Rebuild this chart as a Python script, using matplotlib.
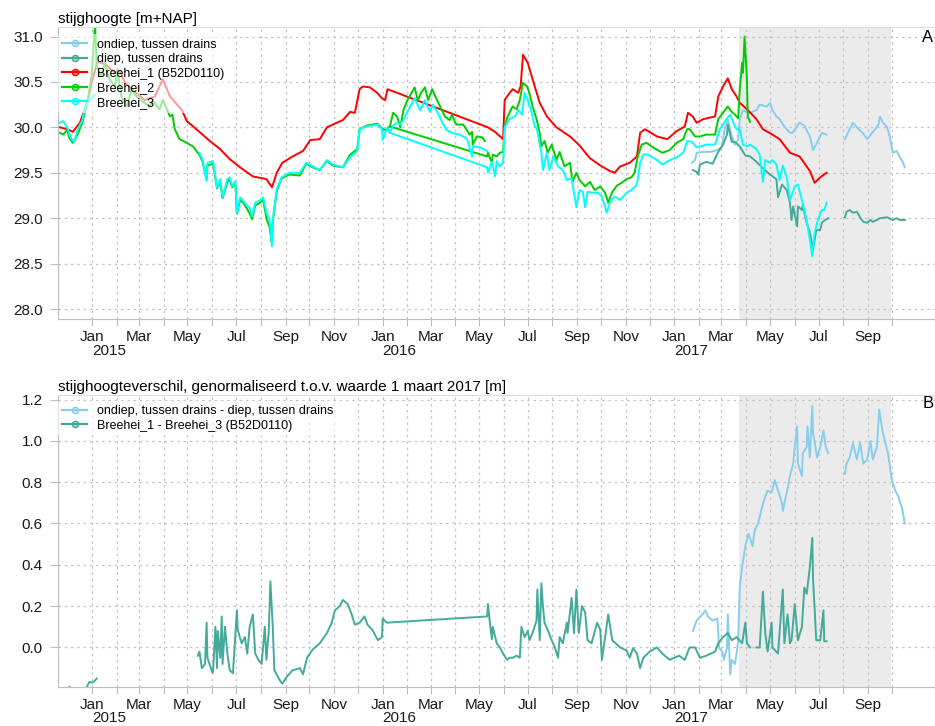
import matplotlib
matplotlib.use("Agg")
import matplotlib.pyplot as plt
import matplotlib.dates as mdates
from matplotlib.lines import Line2D
from matplotlib.colors import to_rgba
import numpy as np
import pandas as pd

plt.rcParams["font.family"] = ["Liberation Sans", "DejaVu Sans"]

# ---- data ----
# top panel: stijghoogte [m+NAP]
ondiep = [("2017-01-23", 29.61), ("2017-01-27", 29.64), ("2017-01-29", 29.72), ("2017-02-06", 29.73),
          ("2017-02-15", 29.73), ("2017-02-24", 29.75), ("2017-03-02", 29.79), ("2017-03-05", 29.98),
          ("2017-03-09", 30.09), ("2017-03-14", 29.90), ("2017-03-18", 29.81), ("2017-03-22", 29.86),
          ("2017-03-24", 30.09), ("2017-03-28", 30.19), ("2017-04-06", 30.16), ("2017-04-14", 30.19),
          ("2017-04-18", 30.25), ("2017-04-27", 30.23), ("2017-05-01", 30.27), ("2017-05-04", 30.19),
          ("2017-05-09", 30.12), ("2017-05-13", 30.09), ("2017-05-19", 30.01), ("2017-05-26", 29.94),
          ("2017-05-29", 29.94), ("2017-06-07", 30.05), ("2017-06-13", 30.02), ("2017-06-20", 29.90),
          ("2017-06-24", 29.75), ("2017-06-29", 29.83), ("2017-07-05", 29.94), ("2017-07-11", 29.92),
          ("2017-07-20", None),
          ("2017-08-03", 29.87), ("2017-08-09", 29.98), ("2017-08-13", 30.05), ("2017-08-18", 30.00),
          ("2017-08-25", 29.94), ("2017-08-31", 29.87), ("2017-09-06", 29.94), ("2017-09-10", 29.98),
          ("2017-09-14", 30.03), ("2017-09-16", 30.12), ("2017-09-19", 30.06), ("2017-09-25", 30.00),
          ("2017-09-29", 29.87), ("2017-10-02", 29.72), ("2017-10-07", 29.74), ("2017-10-11", 29.67),
          ("2017-10-15", 29.61), ("2017-10-17", 29.56)]

diep = [("2017-01-24", 29.53), ("2017-01-29", 29.51), ("2017-01-31", 29.48), ("2017-02-02", 29.59),
        ("2017-02-10", 29.62), ("2017-02-18", 29.60), ("2017-02-25", 29.73), ("2017-03-03", 29.81),
        ("2017-03-08", 29.92), ("2017-03-09", 30.03), ("2017-03-14", 29.84), ("2017-03-18", 29.84),
        ("2017-03-24", 29.79), ("2017-03-31", 29.69), ("2017-04-06", 29.68), ("2017-04-14", 29.62),
        ("2017-04-22", 29.55), ("2017-05-01", 29.48), ("2017-05-09", 29.43), ("2017-05-11", 29.23),
        ("2017-05-16", 29.37), ("2017-05-22", 29.31), ("2017-05-26", 29.17), ("2017-05-28", 28.98),
        ("2017-05-30", 29.13), ("2017-06-04", 28.91), ("2017-06-05", 29.13), ("2017-06-10", 29.09),
        ("2017-06-11", 29.14), ("2017-06-16", 28.95), ("2017-06-20", 28.84), ("2017-06-24", 28.65),
        ("2017-06-28", 28.87), ("2017-07-03", 28.87), ("2017-07-05", 28.95), ("2017-07-09", 28.98),
        ("2017-07-13", 29.00),
        ("2017-07-20", None),
        ("2017-08-03", 29.01), ("2017-08-05", 29.07), ("2017-08-09", 29.09), ("2017-08-13", 29.06),
        ("2017-08-18", 29.07), ("2017-08-22", 29.01), ("2017-08-26", 28.96), ("2017-08-31", 28.95),
        ("2017-09-04", 28.98), ("2017-09-07", 28.96), ("2017-09-12", 28.98), ("2017-09-16", 29.00),
        ("2017-09-25", 29.01), ("2017-10-02", 28.98), ("2017-10-07", 29.00), ("2017-10-11", 28.98),
        ("2017-10-17", 28.98)]

breehei_1 = [("2014-11-22", 30.00), ("2014-12-01", 29.98), ("2014-12-08", 29.95), ("2014-12-17", 30.05),
             ("2014-12-27", 30.30), ("2015-01-01", 30.50), ("2015-01-08", 30.72), ("2015-01-17", 30.70),
             ("2015-01-30", 30.60), ("2015-02-05", 30.62), ("2015-02-11", 30.50), ("2015-02-20", 30.42),
             ("2015-03-08", 30.30), ("2015-03-21", 30.34), ("2015-03-31", 30.53), ("2015-04-09", 30.34),
             ("2015-04-24", 30.19), ("2015-04-30", 30.07), ("2015-05-16", 29.95), ("2015-05-29", 29.85),
             ("2015-06-11", 29.76), ("2015-06-23", 29.65), ("2015-07-06", 29.56), ("2015-07-22", 29.46),
             ("2015-08-08", 29.43), ("2015-08-15", 29.34), ("2015-08-21", 29.50), ("2015-08-28", 29.61),
             ("2015-09-10", 29.68), ("2015-09-23", 29.74), ("2015-10-02", 29.86), ("2015-10-14", 29.87),
             ("2015-10-23", 30.00), ("2015-11-04", 30.05), ("2015-11-12", 30.08), ("2015-11-21", 30.17),
             ("2015-11-27", 30.16), ("2015-12-03", 30.42), ("2015-12-07", 30.45), ("2015-12-16", 30.44),
             ("2015-12-25", 30.38), ("2015-12-31", 30.32), ("2016-01-04", 30.30), ("2016-01-07", 30.42),
             ("2016-05-12", 30.00), ("2016-05-21", 29.95), ("2016-05-31", 29.87), ("2016-06-02", 30.30),
             ("2016-06-05", 30.34), ("2016-06-12", 30.42), ("2016-06-19", 30.38), ("2016-06-22", 30.45),
             ("2016-06-25", 30.80), ("2016-07-01", 30.71), ("2016-07-07", 30.53), ("2016-07-16", 30.27),
             ("2016-07-25", 30.12), ("2016-08-06", 30.00), ("2016-08-23", 29.90), ("2016-09-04", 29.80),
             ("2016-09-17", 29.66), ("2016-09-30", 29.58), ("2016-10-12", 29.52), ("2016-10-18", 29.50),
             ("2016-10-25", 29.57), ("2016-11-06", 29.61), ("2016-11-15", 29.68), ("2016-11-19", 29.94),
             ("2016-11-25", 29.98), ("2016-12-10", 29.90), ("2016-12-23", 29.87), ("2017-01-04", 29.96),
             ("2017-01-14", 30.01), ("2017-01-18", 30.16), ("2017-01-24", 30.12), ("2017-01-29", 30.05),
             ("2017-02-06", 30.09), ("2017-02-21", 30.12), ("2017-02-25", 30.34), ("2017-03-03", 30.45),
             ("2017-03-09", 30.54), ("2017-03-14", 30.42), ("2017-03-20", 30.34), ("2017-03-24", 30.27),
             ("2017-04-02", 30.20), ("2017-04-14", 30.09), ("2017-04-22", 29.98), ("2017-05-04", 29.92),
             ("2017-05-13", 29.87), ("2017-05-26", 29.72), ("2017-06-07", 29.68), ("2017-06-20", 29.52),
             ("2017-06-26", 29.39), ("2017-07-03", 29.45), ("2017-07-11", 29.50)]

breehei_2 = [("2014-11-22", 29.94), ("2014-11-26", 29.92), ("2014-12-01", 29.97), ("2014-12-04", 29.88),
             ("2014-12-08", 29.83), ("2014-12-14", 29.92), ("2014-12-20", 30.05), ("2014-12-27", 30.30),
             ("2015-01-01", 30.60), ("2015-01-05", 31.15), ("2015-01-07", 30.67), ("2015-01-13", 30.56),
             ("2015-01-17", 30.71), ("2015-01-23", 30.53), ("2015-01-30", 30.45), ("2015-02-02", 30.64),
             ("2015-02-07", 30.34), ("2015-02-14", 30.23), ("2015-02-20", 30.42), ("2015-02-26", 30.34),
             ("2015-03-06", 30.28), ("2015-03-15", 30.23), ("2015-03-18", 30.30), ("2015-03-27", 30.20),
             ("2015-03-31", 30.30), ("2015-04-09", 30.12), ("2015-04-12", 30.14), ("2015-04-15", 29.98),
             ("2015-04-21", 29.87), ("2015-04-30", 29.83), ("2015-05-08", 29.79), ("2015-05-13", 29.73),
             ("2015-05-16", 29.70), ("2015-05-20", 29.62), ("2015-05-25", 29.43), ("2015-05-26", 29.58),
             ("2015-06-02", 29.60), ("2015-06-07", 29.33), ("2015-06-11", 29.40), ("2015-06-14", 29.22),
             ("2015-06-20", 29.40), ("2015-06-23", 29.43), ("2015-06-26", 29.34), ("2015-06-30", 29.38),
             ("2015-07-02", 29.05), ("2015-07-06", 29.20), ("2015-07-10", 29.17), ("2015-07-15", 29.10),
             ("2015-07-18", 29.05), ("2015-07-21", 28.99), ("2015-07-25", 29.14), ("2015-07-31", 29.17),
             ("2015-08-04", 29.20), ("2015-08-08", 29.00), ("2015-08-12", 28.90), ("2015-08-15", 28.72),
             ("2015-08-16", 28.95), ("2015-08-21", 29.30), ("2015-08-27", 29.44), ("2015-09-06", 29.48),
             ("2015-09-19", 29.47), ("2015-09-27", 29.60), ("2015-10-05", 29.56), ("2015-10-14", 29.53),
             ("2015-10-23", 29.63), ("2015-10-30", 29.58), ("2015-11-12", 29.56), ("2015-11-21", 29.70),
             ("2015-11-30", 29.76), ("2015-12-03", 29.98), ("2015-12-12", 30.02), ("2015-12-25", 30.04),
             ("2015-12-31", 29.99), ("2016-01-04", 29.97), ("2016-01-10", 30.01),
             ("2016-05-11", 29.68), ("2016-05-12", 29.72), ("2016-05-17", 29.61), ("2016-05-18", 29.70),
             ("2016-05-23", 29.68), ("2016-05-27", 29.72), ("2016-05-31", 29.73), ("2016-06-02", 30.00),
             ("2016-06-05", 30.10), ("2016-06-08", 30.16), ("2016-06-12", 30.23), ("2016-06-17", 30.20),
             ("2016-06-21", 30.30), ("2016-06-25", 30.49), ("2016-06-30", 30.45), ("2016-07-03", 30.38),
             ("2016-07-07", 30.23), ("2016-07-12", 30.09), ("2016-07-16", 29.94), ("2016-07-18", 29.79),
             ("2016-07-22", 29.85), ("2016-07-26", 29.72), ("2016-07-31", 29.81), ("2016-08-06", 29.64),
             ("2016-08-10", 29.73), ("2016-08-16", 29.57), ("2016-08-23", 29.61), ("2016-08-26", 29.40),
             ("2016-08-31", 29.50), ("2016-09-04", 29.42), ("2016-09-11", 29.35), ("2016-09-17", 29.40),
             ("2016-09-23", 29.31), ("2016-09-30", 29.35), ("2016-10-06", 29.28), ("2016-10-10", 29.17),
             ("2016-10-15", 29.29), ("2016-10-21", 29.36), ("2016-10-27", 29.39), ("2016-11-02", 29.43),
             ("2016-11-08", 29.45), ("2016-11-12", 29.50), ("2016-11-16", 29.68), ("2016-11-21", 29.81),
             ("2016-11-27", 29.83), ("2016-12-05", 29.78), ("2016-12-17", 29.72), ("2016-12-26", 29.75),
             ("2017-01-04", 29.83), ("2017-01-12", 29.87), ("2017-01-17", 29.98), ("2017-01-20", 29.98),
             ("2017-01-27", 29.90), ("2017-02-02", 29.90), ("2017-02-10", 29.92), ("2017-02-21", 29.92),
             ("2017-02-25", 30.09), ("2017-03-03", 30.16), ("2017-03-09", 30.23), ("2017-03-14", 30.17),
             ("2017-03-18", 30.14), ("2017-03-22", 30.10), ("2017-03-24", 30.42), ("2017-03-27", 30.71),
             ("2017-03-28", 30.60), ("2017-03-30", 31.00), ("2017-04-02", 30.53), ("2017-04-03", 30.12),
             ("2017-04-06", 30.06)]

# second logger stretch jan-may 2016 (plotted as its own piece)
breehei_2_2016 = [("2016-01-10", 30.01), ("2016-01-14", 30.16), ("2016-01-19", 30.12), ("2016-01-23", 30.00),
                  ("2016-01-27", 30.19), ("2016-02-01", 30.30), ("2016-02-05", 30.36), ("2016-02-10", 30.44),
                  ("2016-02-14", 30.30), ("2016-02-18", 30.38), ("2016-02-23", 30.44), ("2016-02-27", 30.30),
                  ("2016-03-03", 30.42), ("2016-03-07", 30.34), ("2016-03-13", 30.23), ("2016-03-19", 30.12),
                  ("2016-03-25", 30.08), ("2016-03-28", 30.14), ("2016-04-01", 30.05), ("2016-04-03", 30.03),
                  ("2016-04-11", 30.03), ("2016-04-19", 29.92), ("2016-04-22", 29.95), ("2016-04-23", 29.81),
                  ("2016-04-28", 29.90), ("2016-05-05", 29.89), ("2016-05-08", 29.85)]

breehei_3 = [("2014-11-22", 30.05), ("2014-11-26", 30.07), ("2014-12-01", 30.00), ("2014-12-04", 29.92),
             ("2014-12-07", 29.86), ("2014-12-10", 29.84), ("2014-12-14", 29.97), ("2014-12-20", 30.08),
             ("2014-12-23", 30.22), ("2014-12-29", 30.30), ("2015-01-05", 30.36),
             ("2015-03-01", None),
             ("2015-05-16", 29.72), ("2015-05-20", 29.64), ("2015-05-25", 29.41), ("2015-05-26", 29.61),
             ("2015-06-02", 29.63), ("2015-06-07", 29.34), ("2015-06-11", 29.43), ("2015-06-14", 29.23),
             ("2015-06-20", 29.43), ("2015-06-23", 29.45), ("2015-06-26", 29.35), ("2015-06-30", 29.41),
             ("2015-07-02", 29.06), ("2015-07-06", 29.23), ("2015-07-10", 29.19), ("2015-07-15", 29.13),
             ("2015-07-18", 29.12), ("2015-07-21", 29.02), ("2015-07-25", 29.17), ("2015-07-31", 29.20),
             ("2015-08-04", 29.23), ("2015-08-08", 29.06), ("2015-08-12", 28.98), ("2015-08-15", 28.69),
             ("2015-08-16", 28.98), ("2015-08-21", 29.32), ("2015-08-27", 29.45), ("2015-09-06", 29.50),
             ("2015-09-19", 29.50), ("2015-09-27", 29.61), ("2015-10-05", 29.57), ("2015-10-14", 29.53),
             ("2015-10-23", 29.64), ("2015-10-30", 29.59), ("2015-11-12", 29.56), ("2015-11-21", 29.67),
             ("2015-11-30", 29.74), ("2015-12-03", 29.98), ("2015-12-12", 30.01), ("2015-12-25", 30.03),
             ("2015-12-31", 29.98), ("2016-01-01", 29.86), ("2016-01-04", 29.94), ("2016-01-07", 30.00),
             ("2016-01-10", 29.94),
             ("2016-05-11", 29.56), ("2016-05-12", 29.50), ("2016-05-17", 29.62), ("2016-05-21", 29.46),
             ("2016-05-23", 29.63), ("2016-05-27", 29.57), ("2016-05-31", 29.61), ("2016-06-02", 30.00),
             ("2016-06-08", 30.09), ("2016-06-15", 30.12), ("2016-06-19", 30.19), ("2016-06-24", 30.14),
             ("2016-06-27", 30.38), ("2016-07-01", 30.30), ("2016-07-06", 30.16), ("2016-07-10", 30.00),
             ("2016-07-12", 30.00), ("2016-07-18", 29.72), ("2016-07-20", 29.53), ("2016-07-25", 29.72),
             ("2016-07-28", 29.53), ("2016-08-02", 29.68), ("2016-08-08", 29.57), ("2016-08-14", 29.53),
             ("2016-08-19", 29.42), ("2016-08-25", 29.44), ("2016-08-31", 29.12), ("2016-09-04", 29.31),
             ("2016-09-08", 29.29), ("2016-09-11", 29.12), ("2016-09-14", 29.29), ("2016-09-21", 29.28),
             ("2016-09-27", 29.28), ("2016-10-02", 29.24), ("2016-10-08", 29.06), ("2016-10-12", 29.17),
             ("2016-10-18", 29.24), ("2016-10-25", 29.20), ("2016-11-02", 29.28), ("2016-11-08", 29.31),
             ("2016-11-15", 29.37), ("2016-11-19", 29.61), ("2016-11-23", 29.70), ("2016-11-29", 29.70),
             ("2016-12-10", 29.64), ("2016-12-17", 29.59), ("2016-12-26", 29.64), ("2017-01-04", 29.67),
             ("2017-01-12", 29.72), ("2017-01-17", 29.85), ("2017-01-23", 29.84), ("2017-01-29", 29.78),
             ("2017-02-10", 29.81), ("2017-02-21", 29.81), ("2017-02-27", 29.98), ("2017-03-08", 30.10),
             ("2017-03-12", 30.14), ("2017-03-16", 30.05), ("2017-03-20", 29.98), ("2017-03-24", 29.98),
             ("2017-03-28", 29.81), ("2017-04-02", 29.79), ("2017-04-06", 29.81), ("2017-04-14", 29.76),
             ("2017-04-18", 29.70), ("2017-04-22", 29.40), ("2017-04-25", 29.64), ("2017-05-01", 29.61),
             ("2017-05-04", 29.64), ("2017-05-09", 29.59), ("2017-05-13", 29.42), ("2017-05-17", 29.58),
             ("2017-05-22", 29.45), ("2017-05-26", 29.20), ("2017-06-01", 29.35), ("2017-06-05", 29.37),
             ("2017-06-10", 29.20), ("2017-06-16", 28.98), ("2017-06-20", 28.76), ("2017-06-23", 28.58),
             ("2017-06-26", 28.84), ("2017-06-30", 28.98), ("2017-07-05", 29.09), ("2017-07-08", 29.09),
             ("2017-07-11", 29.17)]

breehei_3_2016 = [("2016-01-10", 29.94), ("2016-01-14", 30.02), ("2016-01-19", 30.05), ("2016-01-23", 30.03),
                  ("2016-01-27", 30.08), ("2016-02-02", 30.19), ("2016-02-10", 30.32), ("2016-02-17", 30.19),
                  ("2016-02-23", 30.30), ("2016-02-29", 30.17), ("2016-03-04", 30.25), ("2016-03-10", 30.16),
                  ("2016-03-16", 30.05), ("2016-03-21", 29.97), ("2016-03-25", 29.95), ("2016-04-01", 29.93),
                  ("2016-04-07", 29.92), ("2016-04-16", 29.87), ("2016-04-22", 29.68), ("2016-04-23", 29.79),
                  ("2016-05-02", 29.78), ("2016-05-11", 29.74)]

# bottom panel: verschil, genormaliseerd t.o.v. 1 maart 2017
verschil_ondiep_diep = [("2017-01-24", 0.08), ("2017-01-29", 0.13), ("2017-02-05", 0.16), ("2017-02-09", 0.18),
                        ("2017-02-12", 0.15), ("2017-02-18", 0.13), ("2017-02-24", 0.14), ("2017-02-25", 0.07),
                        ("2017-02-26", 0.00), ("2017-03-02", -0.02), ("2017-03-04", -0.06), ("2017-03-08", 0.00),
                        ("2017-03-09", 0.16), ("2017-03-12", -0.13), ("2017-03-14", -0.06), ("2017-03-18", -0.08),
                        ("2017-03-20", -0.03), ("2017-03-22", 0.03), ("2017-03-24", 0.29), ("2017-03-27", 0.39),
                        ("2017-03-31", 0.49), ("2017-04-04", 0.55), ("2017-04-09", 0.49), ("2017-04-12", 0.57),
                        ("2017-04-16", 0.60), ("2017-04-21", 0.68), ("2017-04-25", 0.73), ("2017-04-28", 0.76),
                        ("2017-05-03", 0.75), ("2017-05-07", 0.81), ("2017-05-11", 0.76), ("2017-05-16", 0.70),
                        ("2017-05-17", 0.66), ("2017-05-22", 0.75), ("2017-05-26", 0.83), ("2017-05-30", 0.89),
                        ("2017-06-01", 0.97), ("2017-06-04", 1.07), ("2017-06-05", 0.89), ("2017-06-10", 0.83),
                        ("2017-06-11", 0.94), ("2017-06-16", 0.97), ("2017-06-17", 1.07), ("2017-06-20", 0.92),
                        ("2017-06-23", 1.17), ("2017-06-24", 1.04), ("2017-06-29", 0.92), ("2017-07-03", 0.97),
                        ("2017-07-07", 1.05), ("2017-07-10", 0.97), ("2017-07-13", 0.94),
                        ("2017-07-20", None),
                        ("2017-08-03", 0.84), ("2017-08-05", 0.89), ("2017-08-09", 0.92), ("2017-08-13", 0.99),
                        ("2017-08-18", 0.91), ("2017-08-22", 0.99), ("2017-08-26", 0.89), ("2017-08-31", 0.91),
                        ("2017-09-04", 1.00), ("2017-09-07", 0.91), ("2017-09-12", 0.97), ("2017-09-15", 1.15),
                        ("2017-09-19", 1.05), ("2017-09-22", 1.00), ("2017-09-26", 0.94), ("2017-10-01", 0.81),
                        ("2017-10-05", 0.76), ("2017-10-09", 0.73), ("2017-10-14", 0.67), ("2017-10-17", 0.60)]

verschil_b1_b3 = [("2014-11-30", -0.22), ("2014-12-04", -0.19), ("2014-12-08", -0.22), ("2014-12-23", -0.22),
                  ("2014-12-27", -0.18), ("2014-12-29", -0.167), ("2015-01-02", -0.17), ("2015-01-05", -0.16),
                  ("2015-01-07", -0.15),
                  ("2015-03-01", None),
                  ("2015-05-14", -0.04), ("2015-05-16", -0.02), ("2015-05-19", -0.10), ("2015-05-23", -0.08),
                  ("2015-05-25", 0.12), ("2015-05-26", -0.05), ("2015-06-01", -0.12), ("2015-06-02", -0.12),
                  ("2015-06-05", 0.10), ("2015-06-07", -0.10), ("2015-06-08", 0.08), ("2015-06-11", -0.05),
                  ("2015-06-13", 0.15), ("2015-06-14", -0.08), ("2015-06-17", 0.10), ("2015-06-20", -0.03),
                  ("2015-06-23", -0.11), ("2015-06-27", -0.125), ("2015-07-02", 0.18), ("2015-07-03", 0.085),
                  ("2015-07-08", 0.02), ("2015-07-12", 0.05), ("2015-07-15", -0.03), ("2015-07-18", 0.10),
                  ("2015-07-22", 0.16), ("2015-07-25", -0.03), ("2015-07-29", -0.06), ("2015-08-02", -0.08),
                  ("2015-08-06", 0.10), ("2015-08-08", -0.06), ("2015-08-11", 0.08), ("2015-08-13", 0.32),
                  ("2015-08-16", 0.10), ("2015-08-18", -0.11), ("2015-08-25", -0.16), ("2015-08-28", -0.175),
                  ("2015-09-03", -0.14), ("2015-09-10", -0.11), ("2015-09-19", -0.10), ("2015-09-23", -0.13),
                  ("2015-09-28", -0.05), ("2015-10-05", -0.01), ("2015-10-14", 0.02), ("2015-10-23", 0.07),
                  ("2015-10-29", 0.12), ("2015-11-02", 0.18), ("2015-11-08", 0.20), ("2015-11-12", 0.23),
                  ("2015-11-18", 0.21), ("2015-11-23", 0.16), ("2015-11-27", 0.11), ("2015-12-03", 0.12),
                  ("2015-12-09", 0.15), ("2015-12-13", 0.11), ("2015-12-19", 0.085), ("2015-12-26", 0.035),
                  ("2015-12-31", 0.05), ("2016-01-01", 0.14), ("2016-01-06", 0.12),
                  ("2016-05-11", 0.15), ("2016-05-12", 0.21), ("2016-05-15", 0.10), ("2016-05-17", 0.04),
                  ("2016-05-18", 0.10), ("2016-05-23", 0.02), ("2016-05-27", 0.00), ("2016-05-31", -0.03),
                  ("2016-06-05", -0.06), ("2016-06-08", -0.05), ("2016-06-12", -0.05), ("2016-06-17", -0.04),
                  ("2016-06-21", -0.05), ("2016-06-23", 0.10), ("2016-06-27", 0.05), ("2016-07-01", 0.08),
                  ("2016-07-03", 0.035), ("2016-07-07", 0.07), ("2016-07-12", 0.13), ("2016-07-13", 0.28),
                  ("2016-07-16", 0.035), ("2016-07-18", 0.31), ("2016-07-20", 0.20), ("2016-07-22", 0.12),
                  ("2016-07-26", 0.085), ("2016-07-31", 0.035), ("2016-08-04", 0.00), ("2016-08-08", -0.05),
                  ("2016-08-10", 0.05), ("2016-08-14", 0.02), ("2016-08-19", 0.12), ("2016-08-20", 0.07),
                  ("2016-08-25", 0.24), ("2016-08-28", 0.07), ("2016-08-31", 0.28), ("2016-09-03", 0.07),
                  ("2016-09-07", 0.20), ("2016-09-11", 0.17), ("2016-09-14", 0.035), ("2016-09-19", 0.02),
                  ("2016-09-26", 0.12), ("2016-09-30", 0.085), ("2016-10-02", -0.06), ("2016-10-06", 0.05),
                  ("2016-10-10", 0.16), ("2016-10-15", 0.035), ("2016-10-25", 0.00), ("2016-11-02", -0.015),
                  ("2016-11-06", -0.05), ("2016-11-10", -0.003), ("2016-11-15", -0.03), ("2016-11-19", -0.10),
                  ("2016-11-23", -0.05), ("2016-12-01", -0.02), ("2016-12-10", 0.00), ("2016-12-17", -0.03),
                  ("2016-12-26", -0.06), ("2017-01-01", -0.05), ("2017-01-07", -0.04), ("2017-01-14", -0.06),
                  ("2017-01-20", 0.00), ("2017-01-27", 0.00), ("2017-02-02", -0.05), ("2017-02-10", -0.04),
                  ("2017-02-21", -0.02), ("2017-02-25", 0.02), ("2017-03-03", 0.05), ("2017-03-09", 0.07),
                  ("2017-03-14", 0.035), ("2017-03-20", 0.05), ("2017-03-27", 0.02), ("2017-03-31", 0.12),
                  ("2017-04-02", 0.02), ("2017-04-06", 0.00),
                  ("2017-04-10", None),
                  ("2017-04-14", 0.00), ("2017-04-18", 0.00), ("2017-04-22", 0.27), ("2017-04-25", 0.07),
                  ("2017-04-28", -0.02), ("2017-05-03", 0.12), ("2017-05-04", 0.00), ("2017-05-11", -0.03),
                  ("2017-05-17", 0.28), ("2017-05-19", 0.02), ("2017-05-23", 0.16), ("2017-05-26", 0.02),
                  ("2017-05-28", 0.035), ("2017-06-01", 0.21), ("2017-06-05", 0.035), ("2017-06-10", 0.10),
                  ("2017-06-13", 0.29), ("2017-06-16", 0.26), ("2017-06-20", 0.39), ("2017-06-23", 0.53),
                  ("2017-06-24", 0.33), ("2017-06-28", 0.035), ("2017-07-03", 0.035), ("2017-07-07", 0.18),
                  ("2017-07-08", 0.03), ("2017-07-11", 0.03)]

# colours / labels
C_ONDIEP = "#87CEEB"
C_DIEP = "#44AA99"
C_B1 = "#FF0000"
C_B2 = "#00CD00"
C_B3 = "#00FFFF"
GRID = "#C4C4C4"
SPINE = "#BEBEBE"

period_start, period_end = "2017-03-23", "2017-09-30"
xmin, xmax = pd.Timestamp("2014-11-19 12:00"), pd.Timestamp("2017-11-24")
month_ticks = pd.date_range("2015-01-01", "2017-10-01", freq="MS")


def series(pairs):
    d = pd.to_datetime([p[0] for p in pairs])
    v = np.array([np.nan if p[1] is None else p[1] for p in pairs], dtype=float)
    return d, v


def month_fmt(x, pos):
    d = mdates.num2date(x)
    return d.strftime("%b") if d.month % 2 == 1 else ""


def style_axes(ax, ylim, yticks, yfmt):
    ax.set_xlim(xmin, xmax)
    ax.set_ylim(*ylim)
    ax.set_yticks(yticks)
    ax.set_yticklabels([yfmt.format(t) for t in yticks])
    ax.set_xticks(month_ticks)
    ax.xaxis.set_major_formatter(plt.FuncFormatter(month_fmt))
    ax.axvspan(pd.Timestamp(period_start), pd.Timestamp(period_end), color="#EBEBEB", lw=0, zorder=0)
    ax.grid(True, color=GRID, linestyle=(0, (2.0, 3.0)), lw=0.9, zorder=0.5)
    ax.set_axisbelow(True)
    for s in ("left", "bottom"):
        ax.spines[s].set_color(SPINE)
    ax.spines["top"].set_color("#DDDDDD")
    ax.spines["right"].set_visible(False)
    ax.tick_params(axis="both", direction="out", color=SPINE, labelsize=11, labelcolor="#1a1a1a")
    ax.tick_params(axis="y", length=6, pad=5)
    ax.tick_params(axis="x", length=5, pad=3)
    for yr in (2015, 2016, 2017):
        ax.annotate(str(yr), xy=(pd.Timestamp(f"{yr}-01-01"), 0), xycoords=("data", "axes fraction"),
                    xytext=(0, -17.5), textcoords="offset points", ha="left", va="top",
                    fontsize=11, color="#1a1a1a", annotation_clip=False)


def add_legend(ax, entries, drop):
    handles = [Line2D([], [], color=c, lw=1.6, marker="o", markersize=4.5,
                      markerfacecolor=to_rgba(c, 0.45), markeredgecolor=c) for c, _ in entries]
    leg = ax.legend(handles, [l for _, l in entries], loc="upper left", fontsize=9,
                    bbox_to_anchor=(0.0, 1.0 - drop),
                    frameon=True, framealpha=0.6, edgecolor="none", facecolor="white",
                    borderaxespad=0.0, borderpad=0.35, handlelength=2.0, handletextpad=0.8,
                    labelspacing=0.2)
    leg.set_zorder(5)


fig = plt.figure(figsize=(9.35, 7.26), dpi=100)
ax1 = fig.add_axes([58 / 935, 1 - 319.3 / 726, 1 - 58 / 935, (319.3 - 26.7) / 726])
ax2 = fig.add_axes([58 / 935, 1 - 686.7 / 726, 1 - 58 / 935, (686.7 - 395) / 726])

LW = 1.4
for pairs, c in ((ondiep, C_ONDIEP), (diep, C_DIEP), (breehei_1, C_B1),
                 (breehei_2, C_B2), (breehei_2_2016, C_B2),
                 (breehei_3, C_B3), (breehei_3_2016, C_B3)):
    d, v = series(pairs)
    ax1.plot(d, v, color=c, lw=LW, zorder=2)

style_axes(ax1, (27.887, 31.108), [28.0, 28.5, 29.0, 29.5, 30.0, 30.5, 31.0], "{:.1f}")
add_legend(ax1, [(C_ONDIEP, "ondiep, tussen drains"), (C_DIEP, "diep, tussen drains"),
                 (C_B1, "Breehei_1 (B52D0110)"), (C_B2, "Breehei_2"), (C_B3, "Breehei_3")], 0.026)
ax1.text(0, 1.003, "stijghoogte [m+NAP]", transform=ax1.transAxes, fontsize=11, ha="left", va="bottom")

for pairs, c in ((verschil_ondiep_diep, C_ONDIEP), (verschil_b1_b3, C_DIEP)):
    d, v = series(pairs)
    ax2.plot(d, v, color=c, lw=LW, zorder=2)

style_axes(ax2, (-0.19, 1.222), [0.0, 0.2, 0.4, 0.6, 0.8, 1.0, 1.2], "{:.1f}")
add_legend(ax2, [(C_ONDIEP, "ondiep, tussen drains - diep, tussen drains"),
                 (C_DIEP, "Breehei_1 - Breehei_3 (B52D0110)")], 0.02)
ax2.text(0, 1.003, "stijghoogteverschil, genormaliseerd t.o.v. waarde 1 maart 2017 [m]",
         transform=ax2.transAxes, fontsize=11, ha="left", va="bottom")

# panel letters, kept just inside the right edge
fig.text(933.5 / 935, 1 - 38 / 726, "A", fontsize=12, ha="right", va="center")
fig.text(933.5 / 935, 1 - 404 / 726, "B", fontsize=12, ha="right", va="center")

fig.savefig("out.png", dpi=100)
